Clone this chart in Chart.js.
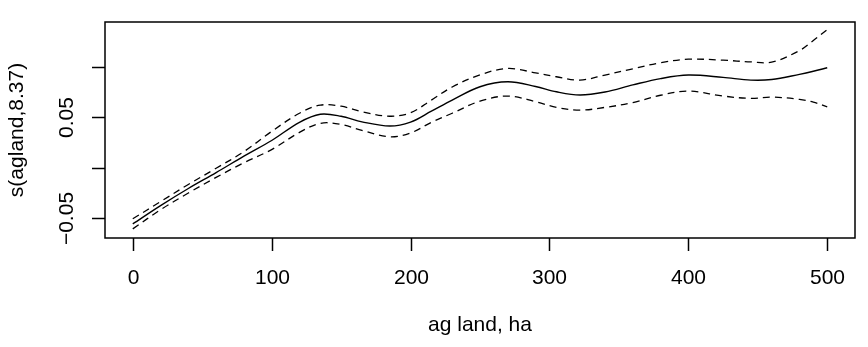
<!DOCTYPE html>
<html lang="en">

<head>
    <meta charset="UTF-8" />
    <title>s(agland,8.37)</title>
    <script src="https://cdn.jsdelivr.net/npm/chart.js"></script>
    <style>
        body {
            margin: 0;
            background: #fff;
        }

        canvas {
            display: block;
        }
    </style>
</head>

<body>
    <canvas id="smoothChart" width="868" height="347"></canvas>

    <script>
        // values
        const agLand = [0, 20, 40, 60, 80, 100, 120, 135, 150, 165, 185, 200, 215, 230, 250, 270, 290, 305, 322, 340, 360, 380, 400, 425, 445, 460, 480, 490, 500];
        const fit = [-0.0555, -0.0374, -0.0205, -0.0048, 0.0115, 0.027, 0.045, 0.053, 0.051, 0.0455, 0.0413, 0.0452, 0.056, 0.067, 0.0802, 0.0851, 0.0805, 0.0752, 0.072, 0.075, 0.082, 0.0883, 0.0918, 0.0895, 0.0868, 0.0874, 0.0925, 0.0955, 0.099];
        const upper = [-0.0505, -0.0335, -0.0165, -0.0005, 0.016, 0.036, 0.054, 0.062, 0.061, 0.0555, 0.051, 0.0545, 0.067, 0.080, 0.092, 0.0983, 0.094, 0.0901, 0.0868, 0.0918, 0.098, 0.104, 0.1075, 0.1065, 0.1048, 0.1045, 0.116, 0.126, 0.1368];
        const lower = [-0.0605, -0.0415, -0.025, -0.0095, 0.005, 0.018, 0.035, 0.044, 0.043, 0.037, 0.0307, 0.0345, 0.045, 0.054, 0.066, 0.071, 0.0655, 0.0598, 0.0571, 0.0598, 0.0645, 0.0718, 0.0759, 0.071, 0.0687, 0.070, 0.0677, 0.065, 0.0604];

        const xTicks = [0, 100, 200, 300, 400, 500];
        const yTicks = [-0.05, 0, 0.05, 0.10];
        const yTickLabels = ['\u22120.05', '', '0.05', ''];

        const font = '21px "Liberation Sans", Arial, sans-serif';

        const toPoints = ys => agLand.map((x, i) => ({ x, y: ys[i] }));

        // R-style box, ticks and labels
        const rAxes = {
            id: 'rAxes',
            afterDraw(chart) {
                const { ctx, chartArea: a, scales: { x, y } } = chart;
                ctx.save();
                ctx.strokeStyle = '#000';
                ctx.fillStyle = '#000';
                ctx.lineWidth = 1.5;
                ctx.strokeRect(a.left, a.top, a.right - a.left, a.bottom - a.top);

                ctx.font = font;
                ctx.textAlign = 'center';
                ctx.textBaseline = 'alphabetic';
                xTicks.forEach(v => {
                    const px = Math.round(x.getPixelForValue(v)) + 0.5;
                    ctx.beginPath();
                    ctx.moveTo(px, a.bottom);
                    ctx.lineTo(px, a.bottom + 13);
                    ctx.stroke();
                    ctx.fillText(String(v), px, 284);
                });

                yTicks.forEach((v, i) => {
                    const py = Math.round(y.getPixelForValue(v)) + 0.5;
                    ctx.beginPath();
                    ctx.moveTo(a.left, py);
                    ctx.lineTo(a.left - 13, py);
                    ctx.stroke();
                    if (yTickLabels[i]) {
                        ctx.save();
                        ctx.translate(73, py);
                        ctx.rotate(-Math.PI / 2);
                        ctx.fillText(yTickLabels[i], 0, 0);
                        ctx.restore();
                    }
                });

                ctx.fillText('ag land, ha', (a.left + a.right) / 2, 331);
                ctx.save();
                ctx.translate(22.5, (a.top + a.bottom) / 2);
                ctx.rotate(-Math.PI / 2);
                ctx.fillText('s(agland,8.37)', 0, 0);
                ctx.restore();
                ctx.restore();
            }
        };

        const lineStyle = {
            borderColor: '#000',
            pointRadius: 0,
            fill: false,
            tension: 0.35,
        };

        new Chart(document.getElementById('smoothChart'), {
            type: 'line',
            data: {
                datasets: [
                    { ...lineStyle, label: 'fit', data: toPoints(fit), borderWidth: 1.4 },
                    { ...lineStyle, label: 'upper', data: toPoints(upper), borderWidth: 1.3, borderDash: [7, 5] },
                    { ...lineStyle, label: 'lower', data: toPoints(lower), borderWidth: 1.3, borderDash: [7, 5] },
                ],
            },
            options: {
                responsive: false,
                animation: false,
                devicePixelRatio: 1,
                layout: { padding: { left: 105, right: 13, top: 22, bottom: 109 } },
                plugins: { legend: { display: false }, tooltip: { enabled: false } },
                scales: {
                    x: { type: 'linear', min: -20, max: 520, display: false },
                    y: { type: 'linear', min: -0.0695, max: 0.1443, display: false },
                },
            },
            plugins: [rAxes],
        });
    </script>
</body>

</html>
